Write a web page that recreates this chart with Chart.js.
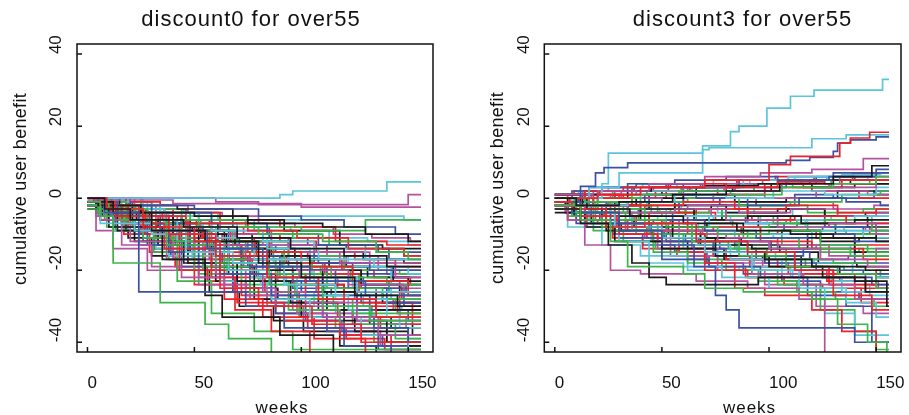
<!DOCTYPE html>
<html>
<head>
<meta charset="utf-8">
<script src="https://cdn.jsdelivr.net/npm/chart.js@4.4.0/dist/chart.umd.min.js"></script>
<style>
  body { margin: 0; background: #fff; }
  #wrap { position: relative; width: 909px; height: 415px; overflow: hidden; font-family: "Liberation Sans", Arial, sans-serif; color: #111; }
  canvas { position: absolute; top: 0; }
  .lbl { position: absolute; white-space: nowrap; line-height: 1; transform: translate(-50%, -50%); }
  .main { font-size: 22px; letter-spacing: 1px; }
  .xt { font-size: 17px; letter-spacing: 1px; }
  .yt { font-size: 18px; letter-spacing: 0.3px; transform: translate(-50%, -50%) rotate(-90deg); }
</style>
</head>
<body>
<div id="wrap">
  <canvas id="c0" width="455" height="415" style="left:0"></canvas>
  <canvas id="c1" width="454" height="415" style="left:455px"></canvas>
  <div class="lbl main" style="left:251px;top:18.5px">discount0 for over55</div>
  <div class="lbl main" style="left:742.5px;top:18.5px">discount3 for over55</div>
  <div class="lbl xt" style="left:282px;top:407px">weeks</div>
  <div class="lbl xt" style="left:749.5px;top:407px">weeks</div>
  <div class="lbl yt" style="left:19.8px;top:189px">cumulative user benefit</div>
  <div class="lbl yt" style="left:497px;top:188px">cumulative user benefit</div>
</div>
<script>
const weeksEnd = 156;
const xTicks = [0, 50, 100, 150];
const yTicks = [-40, -20, 0, 20, 40];
const black = '#1a1a1a', red = '#ec2229', green = '#3db449', blue = '#3b51a3', cyan = '#5cc5dc', magenta = '#b4529f';

// discount0: each row is week,value,week,value,... (value held until next week)
const d0Black = [
  [0,0, 8,-3, 20,-6, 45,-8, 70,-11, 95,-14, 120,-16, 140,-19],
  [0,-1, 12,-4, 30,-9, 55,-12, 80,-18, 100,-22, 125,-27, 145,-30],
  [0,0, 5,-2, 25,-4, 50,-5, 75,-7, 110,-8, 130,-10, 150,-12],
  [0,-2, 10,-8, 35,-17, 55,-27, 63,-33, 90,-38, 115,-44],
  [0,0, 15,-5, 40,-10, 65,-14, 85,-20, 110,-26, 135,-31],
  [0,-1, 6,-6, 22,-12, 45,-18, 70,-23, 95,-29, 120,-34, 140,-40],
  [0,0, 18,-2, 42,-3, 68,-6, 92,-9, 118,-13, 138,-14],
  [0,-3, 14,-9, 33,-13, 58,-19, 78,-28, 100,-33, 125,-37, 150,-41],
  [0,0, 10,-3, 28,-7, 52,-13, 72,-16, 104,-20, 128,-24, 146,-26],
  [0,-1, 20,-6, 48,-15, 66,-21, 88,-26, 112,-31, 132,-35, 152,-38],
  [0,-1, 4,-3, 9,-5, 16,-7, 27,-10, 38,-12, 52,-15, 66,-17, 84,-21, 102,-24, 120,-26, 138,-29],
  [0,0, 3,-1, 12,-2, 21,-6, 33,-8, 49,-9, 64,-12, 79,-14, 97,-17, 113,-19, 131,-22, 150,-24],
  [0,-2, 7,-5, 18,-9, 31,-14, 47,-18, 60,-23, 74,-25, 89,-28, 108,-31, 124,-33, 142,-36],
  [0,0, 10,-4, 23,-6, 37,-9, 53,-11, 69,-13, 86,-16, 104,-18, 121,-19, 143,-23],
  [0,-1, 5,-2, 15,-4, 29,-5, 44,-7, 61,-10, 77,-12, 94,-13, 112,-15, 129,-17, 148,-18],
  [0,-1, 9,-6, 19,-11, 30,-16, 42,-20, 57,-26, 71,-30, 87,-34, 101,-37, 118,-41, 135,-45]
];
const d0Red = [
  [0,0, 9,-3, 26,-8, 50,-12, 62,-25, 80,-30, 105,-35, 128,-40],
  [0,-1, 13,-5, 38,-10, 60,-16, 84,-22, 108,-28, 135,-33],
  [0,0, 7,-2, 24,-5, 46,-7, 75,-9, 98,-11, 122,-14, 148,-16],
  [0,-2, 16,-7, 36,-14, 58,-22, 69,-31, 86,-37, 104,-46],
  [0,0, 11,-4, 30,-9, 54,-11, 78,-15, 100,-19, 124,-23, 150,-27],
  [0,-1, 19,-8, 43,-20, 64,-28, 82,-33, 106,-39, 130,-44],
  [0,0, 8,-1, 34,-4, 62,-6, 90,-8, 116,-12, 140,-13],
  [0,-2, 22,-6, 47,-13, 72,-20, 96,-24, 120,-30, 145,-32],
  [0,0, 14,-6, 32,-11, 57,-17, 77,-21, 102,-26, 126,-29, 152,-35],
  [0,-1, 10,-4, 27,-10, 50,-24, 70,-29, 92,-34, 118,-38, 142,-43],
  [0,0, 5,-3, 14,-6, 25,-10, 39,-13, 55,-18, 68,-22, 83,-26, 99,-29, 117,-33, 137,-36],
  [0,-1, 8,-2, 19,-5, 33,-7, 48,-10, 63,-12, 79,-16, 93,-18, 111,-21, 128,-25, 147,-28],
  [0,0, 11,-2, 24,-3, 40,-6, 57,-8, 73,-10, 90,-12, 107,-15, 125,-17, 144,-19],
  [0,-2, 6,-6, 17,-10, 29,-15, 41,-19, 56,-23, 72,-27, 88,-32, 103,-36, 121,-39, 139,-42],
  [0,-1, 13,-3, 27,-7, 43,-12, 59,-15, 76,-18, 92,-21, 110,-23, 127,-26, 146,-30],
  [0,0, 4,-2, 16,-4, 35,-6, 51,-9, 67,-12, 85,-15, 103,-17, 119,-20, 134,-22, 151,-24]
];
const d0Green = [
  [0,-1, 6,-5, 12,-18, 34,-29, 55,-35, 66,-39, 86,-47],
  [0,0, 10,-3, 28,-6, 52,-8, 80,-10, 110,-12, 135,-15, 150,-17],
  [0,-2, 15,-6, 37,-13, 60,-18, 85,-24, 110,-30, 132,-34],
  [0,0, 8,-2, 22,-4, 48,-6, 74,-8, 100,-9, 130,-6],
  [0,-1, 18,-7, 40,-12, 64,-17, 88,-21, 112,-25, 138,-28],
  [0,0, 12,-4, 26,-11, 50,-20, 72,-23, 94,-31, 118,-35, 144,-39],
  [0,-3, 9,-8, 31,-15, 54,-19, 76,-26, 98,-28, 124,-32],
  [0,0, 20,-3, 44,-9, 68,-14, 92,-19, 114,-22, 140,-24],
  [0,-1, 5,-4, 17,-9, 42,-23, 58,-32, 78,-37, 96,-42],
  [0,0, 25,-5, 46,-10, 70,-12, 94,-16, 120,-20, 146,-21],
  [0,0, 7,-2, 17,-5, 28,-8, 42,-11, 58,-14, 73,-18, 90,-22, 108,-25, 126,-28, 144,-31],
  [0,-1, 10,-4, 21,-8, 35,-11, 50,-16, 64,-20, 80,-23, 97,-27, 115,-30, 133,-33, 149,-36],
  [0,0, 15,-1, 30,-3, 46,-5, 62,-7, 78,-9, 96,-11, 113,-13, 130,-14, 148,-16],
  [0,-2, 5,-5, 13,-9, 24,-13, 38,-17, 52,-21, 68,-24, 84,-29, 99,-33, 116,-36, 134,-40],
  [0,0, 9,-3, 22,-5, 36,-8, 53,-10, 70,-14, 87,-17, 105,-20, 123,-23, 141,-26],
  [0,-1, 12,-2, 26,-6, 41,-9, 57,-12, 74,-15, 91,-19, 109,-21, 127,-24, 147,-27]
];
const d0Blue = [
  [0,0, 8,-4, 24,-26, 74,-30, 92,-36, 120,-41, 142,-45],
  [0,-1, 14,-5, 34,-9, 56,-14, 82,-19, 104,-23, 130,-27],
  [0,0, 10,-2, 30,-4, 58,-7, 84,-10, 108,-13, 136,-15],
  [0,-2, 16,-8, 38,-15, 62,-21, 86,-27, 110,-33, 134,-36, 150,-40],
  [0,0, 20,-2, 50,-3, 80,-5, 100,-6, 120,-8, 144,-10],
  [0,-1, 12,-6, 28,-13, 52,-18, 76,-23, 100,-26, 126,-31],
  [0,0, 6,-3, 26,-7, 48,-14, 72,-19, 96,-22, 122,-25, 148,-30],
  [0,-1, 18,-4, 40,-8, 66,-16, 90,-20, 116,-25, 140,-29],
  [0,0, 11,-5, 36,-11, 60,-13, 84,-16, 108,-18, 132,-20],
  [0,-2, 22,-10, 44,-19, 68,-26, 88,-32, 112,-37, 136,-42],
  [0,0, 6,-2, 16,-5, 29,-9, 43,-12, 59,-16, 75,-19, 92,-23, 110,-26, 128,-29, 146,-33],
  [0,-1, 11,-3, 24,-6, 38,-8, 54,-11, 71,-13, 88,-15, 106,-18, 124,-21, 143,-22],
  [0,-2, 4,-4, 13,-8, 26,-12, 39,-16, 55,-20, 70,-25, 86,-29, 102,-34, 120,-38, 138,-41],
  [0,0, 9,-1, 21,-3, 36,-4, 52,-6, 68,-8, 85,-11, 103,-13, 121,-14, 141,-17],
  [0,-1, 7,-4, 18,-7, 32,-11, 47,-15, 63,-18, 79,-22, 96,-25, 114,-27, 132,-31, 150,-34],
  [0,0, 14,-3, 28,-5, 44,-10, 61,-12, 77,-15, 94,-19, 112,-22, 129,-24, 149,-26]
];
const d0Cyan = [
  [0,0, 90,1, 96,2, 140,4.5],
  [0,-1, 8,-4, 22,-9, 46,-15, 68,-18, 92,-24, 116,-28, 140,-33],
  [0,-2, 6,-7, 30,-10, 56,-14, 78,-17, 100,-22, 126,-26],
  [0,0, 14,-3, 36,-8, 60,-11, 84,-14, 108,-17, 134,-19, 150,-21],
  [0,-1, 20,-6, 42,-12, 66,-20, 86,-28, 104,-33, 128,-38, 150,-44],
  [0,0, 10,-2, 34,-5, 58,-9, 82,-12, 106,-14, 130,-17],
  [0,-1, 16,-7, 38,-16, 62,-23, 84,-26, 106,-30, 132,-34],
  [0,0, 26,-4, 52,-6, 100,-5, 148,-6],
  [0,-2, 12,-9, 32,-14, 54,-18, 76,-22, 98,-27, 122,-31, 146,-36],
  [0,0, 8,-3, 20,-5, 44,-7, 70,-13, 94,-17, 118,-19, 142,-24],
  [0,-1, 5,-3, 15,-6, 27,-9, 40,-12, 56,-14, 72,-17, 88,-20, 106,-23, 124,-25, 142,-28],
  [0,0, 10,-2, 23,-4, 38,-7, 54,-9, 70,-12, 86,-14, 104,-16, 122,-18, 140,-20],
  [0,-1, 8,-5, 19,-9, 33,-13, 49,-17, 65,-21, 81,-24, 98,-29, 116,-32, 134,-36, 150,-39],
  [0,0, 13,-1, 28,-3, 45,-4, 61,-6, 78,-8, 95,-9, 113,-11, 131,-12, 150,-13],
  [0,-2, 6,-4, 17,-8, 31,-12, 45,-14, 60,-17, 76,-21, 93,-24, 111,-27, 129,-30, 147,-31],
  [0,0, 11,-3, 25,-7, 39,-10, 55,-13, 71,-16, 87,-18, 105,-21, 123,-23, 141,-26]
];
const d0Magenta = [
  [0,0, 60,-1, 80,-1.8, 150,1],
  [0,-0.5, 40,-1.5, 100,-2.5],
  [0,-1, 6,-6, 16,-13, 30,-19, 44,-22, 64,-25, 88,-30, 110,-33, 136,-38],
  [0,0, 10,-4, 26,-9, 50,-13, 74,-17, 98,-20, 122,-24, 148,-27],
  [0,-2, 8,-6, 20,-12, 40,-17, 60,-21, 82,-26, 102,-29, 126,-34],
  [0,0, 14,-2, 32,-6, 58,-10, 82,-13, 106,-15, 132,-18],
  [0,-1, 18,-5, 38,-12, 54,-20, 74,-27, 96,-31, 118,-36, 140,-40],
  [0,0, 22,-3, 46,-8, 70,-11, 94,-15, 118,-18, 144,-22],
  [0,-3, 4,-9, 12,-14, 28,-20, 52,-24, 76,-28, 98,-32, 124,-35],
  [0,0, 12,-3, 36,-6, 62,-9, 86,-13, 112,-16, 136,-20],
  [0,-1, 6,-3, 16,-7, 28,-10, 41,-13, 57,-16, 73,-19, 89,-23, 107,-26, 125,-28, 143,-31],
  [0,0, 9,-2, 22,-4, 37,-6, 53,-9, 69,-11, 86,-14, 104,-16, 121,-18, 140,-21],
  [0,-2, 4,-5, 12,-9, 24,-13, 37,-17, 52,-22, 68,-26, 84,-30, 101,-34, 119,-37, 137,-41],
  [0,0, 14,-1, 30,-2, 47,-4, 63,-5, 80,-7, 97,-8, 115,-10, 133,-11, 151,-12],
  [0,-1, 8,-4, 19,-8, 34,-11, 50,-14, 66,-17, 82,-20, 99,-22, 117,-25, 135,-29],
  [0,0, 11,-2, 26,-5, 42,-8, 58,-12, 75,-15, 92,-18, 110,-20, 128,-23, 146,-25]
];

// discount3
const d3Black = [
  [0,0, 10,-2, 30,-1, 55,1, 80,2, 105,4, 130,6, 148,9],
  [0,-3, 12,-7, 25,-13, 36,-18, 44,-22, 52,-24, 80,-24, 95,-22, 140,-23, 155,-30],
  [0,0, 15,-3, 35,-5, 60,-7, 85,-9, 110,-10, 130,-11, 150,-12],
  [0,-1, 10,-4, 30,-8, 55,-11, 75,-15, 98,-17, 120,-19, 145,-20],
  [0,1, 20,2, 45,3, 70,3.5, 95,4, 120,3, 140,4],
  [0,-4, 14,-8, 28,-12, 50,-14, 75,-16, 100,-19, 125,-22, 145,-26],
  [0,0, 6,-3, 22,-5, 40,-3, 65,-6, 90,-5, 115,-7, 140,-6],
  [0,-1, 18,-2, 38,0, 60,1, 84,-1, 108,0, 132,2, 150,1],
  [0,-2, 9,-5, 24,-9, 46,-10, 68,-13, 92,-14, 118,-11, 140,-15],
  [0,0, 12,-1, 34,-3, 56,-2, 80,-4, 104,-3, 126,-5, 146,-8],
  [0,-1, 5,-2, 14,-4, 26,-3, 40,-6, 55,-8, 71,-7, 88,-10, 106,-9, 124,-12, 142,-11],
  [0,0, 8,1, 20,0, 34,2, 50,1, 66,3, 83,2, 101,4, 119,5, 138,4],
  [0,-2, 6,-4, 17,-7, 31,-9, 46,-12, 62,-14, 79,-17, 97,-16, 115,-19, 133,-21, 150,-22],
  [0,0, 11,-1, 25,-2, 40,-1, 56,-3, 73,-2, 90,-4, 108,-3, 126,-5, 145,-4],
  [0,-1, 9,-3, 22,-6, 37,-8, 53,-10, 70,-11, 87,-13, 105,-15, 123,-18, 141,-19],
  [0,0, 13,-2, 28,-1, 44,-3, 61,-5, 78,-6, 95,-8, 113,-7, 131,-10, 150,-11]
];
const d3Red = [
  [0,0, 20,1, 40,3, 70,5, 100,9.3, 110,11.6, 133,15.3, 138,16.7, 147,18.3],
  [0,-1, 8,-3, 24,-8, 42,-7, 66,-12, 90,-15, 112,-20, 130,-27, 148,-31],
  [0,0, 14,2, 32,3, 54,4, 80,3, 104,4.5, 126,4, 150,5],
  [0,-2, 12,-5, 30,-10, 48,-11, 70,-18, 84,-25, 98,-27, 120,-31, 134,-37, 150,-44],
  [0,1, 16,0, 36,-2, 60,-1, 84,-3, 108,-2, 132,-4, 150,-3],
  [0,-1, 10,-2, 28,-6, 50,-9, 74,-8, 96,-12, 120,-14, 144,-17],
  [0,0, 18,-2, 40,-5, 62,-10, 70,-20, 90,-22, 116,-21, 140,-25],
  [0,-3, 6,-6, 20,-7, 44,-4, 66,-3, 90,-6, 112,-5, 136,-7],
  [0,0, 12,1, 30,0, 52,2, 76,1, 98,3, 120,2, 142,0],
  [0,-2, 14,-6, 34,-9, 58,-15, 80,-17, 104,-19, 128,-24, 150,-20],
  [0,0, 7,-1, 18,1, 32,0, 47,2, 63,3, 80,2, 98,4, 116,3, 134,5],
  [0,-1, 6,-3, 16,-5, 29,-8, 43,-11, 58,-13, 74,-16, 91,-19, 109,-21, 127,-23, 145,-26],
  [0,-2, 10,-4, 23,-5, 38,-7, 54,-6, 70,-8, 87,-10, 104,-9, 122,-11, 140,-13],
  [0,0, 12,-1, 26,-3, 42,-2, 58,-4, 75,-6, 92,-5, 110,-7, 128,-8, 147,-10],
  [0,1, 9,2, 21,1, 36,3, 52,4, 68,3, 85,5, 103,6, 121,5, 139,7],
  [0,-1, 5,-4, 15,-8, 27,-11, 41,-14, 57,-16, 72,-19, 89,-22, 107,-24, 125,-25, 143,-29]
];
const d3Green = [
  [0,-2, 12,-6, 26,-12, 34,-19, 60,-21, 70,-25, 88,-26, 120,-28, 132,-35, 146,-40, 155,-43],
  [0,0, 14,-1, 36,1, 58,2, 82,1, 106,3, 130,4, 150,6],
  [0,-1, 10,-4, 30,-6, 52,-8, 76,-10, 100,-9, 124,-13, 146,-15],
  [0,0, 20,-3, 42,-7, 64,-12, 86,-16, 108,-19, 132,-21, 150,-25],
  [0,-3, 8,-5, 22,-8, 44,-10, 66,-9, 90,-11, 114,-14, 138,-16],
  [0,1, 16,0, 40,-1, 62,0, 86,-2, 110,-1, 134,1, 152,2],
  [0,-1, 12,-3, 28,-9, 46,-15, 62,-18, 80,-20, 104,-24, 124,-31, 140,-37, 150,-42],
  [0,0, 10,-2, 32,-4, 54,-3, 78,-5, 102,-7, 126,-6, 148,-9],
  [0,-2, 18,-7, 38,-10, 60,-13, 84,-14, 108,-17, 130,-18, 150,-16],
  [0,0, 6,-1, 26,-2, 48,-4, 72,-3, 96,-2, 118,-4, 144,-3],
  [0,0, 9,-2, 20,-3, 35,-5, 50,-4, 66,-6, 83,-8, 100,-7, 118,-9, 136,-10],
  [0,-1, 7,-2, 19,-4, 33,-7, 48,-9, 64,-12, 81,-14, 99,-17, 117,-19, 135,-20, 152,-22],
  [0,1, 12,0, 27,2, 43,1, 59,3, 76,2, 93,4, 111,3, 129,5, 147,4],
  [0,-2, 6,-5, 18,-9, 32,-12, 47,-14, 62,-17, 78,-20, 95,-23, 113,-26, 131,-28, 149,-30],
  [0,0, 14,-1, 29,-2, 45,-4, 61,-3, 78,-5, 95,-6, 113,-8, 131,-7, 150,-9],
  [0,-1, 10,-3, 24,-4, 39,-6, 55,-9, 71,-11, 88,-10, 106,-13, 124,-15, 142,-14]
];
const d3Blue = [
  [0,0, 12,3.3, 19,7, 23,8.5, 34,9.8, 108,10.5, 119,11.3, 130,13, 132,15.3, 138,16.2, 150,17],
  [0,-1, 12,-4, 30,-9, 50,-13, 65,-19, 75,-27, 80,-31, 86,-36, 140,-40],
  [0,0, 14,2, 34,4, 56,5, 80,6, 104,5, 128,6, 150,7],
  [0,-2, 8,-4, 26,-7, 46,-6, 70,-9, 94,-11, 118,-10, 140,-12],
  [0,0, 20,-1, 42,1, 66,0, 90,-2, 114,0, 136,-1, 152,-2],
  [0,-1, 12,-6, 30,-11, 50,-17, 72,-19, 96,-22, 118,-27, 136,-30, 148,-40],
  [0,1, 16,3, 38,4, 60,2, 84,3, 108,5, 130,7, 150,8],
  [0,-3, 10,-7, 28,-10, 52,-12, 74,-15, 98,-18, 122,-20, 144,-21],
  [0,0, 18,-2, 36,-1, 58,-3, 80,-6, 104,-5, 126,-8, 148,-7],
  [0,-1, 6,-3, 24,-5, 44,-9, 68,-12, 90,-16, 116,-14, 140,-18],
  [0,0, 8,2, 22,3, 37,2, 53,4, 69,3, 86,5, 104,4, 122,6, 140,5],
  [0,-1, 6,-2, 17,-5, 30,-7, 45,-10, 61,-12, 77,-14, 94,-17, 112,-20, 130,-22, 148,-24],
  [0,0, 11,-1, 24,-3, 39,-4, 55,-6, 72,-5, 89,-7, 107,-9, 125,-8, 144,-10],
  [0,-2, 9,-4, 21,-6, 36,-9, 51,-11, 67,-13, 84,-12, 101,-15, 119,-17, 137,-16],
  [0,1, 13,0, 28,1, 44,-1, 60,0, 77,-2, 94,-1, 112,1, 130,0, 149,2],
  [0,-1, 5,-3, 14,-7, 27,-10, 41,-13, 56,-15, 71,-18, 88,-21, 106,-23, 124,-26, 142,-28]
];
const d3Cyan = [
  [0,0, 22,4, 25,12.5, 69,14.5, 82,18.5, 86,20, 99,25, 110,28.3, 121,30, 153,33],
  [0,0, 16,3, 30,7, 69,13.5, 72,14, 120,16.5, 136,17.6],
  [0,-1, 10,-4, 28,-8, 50,-11, 70,-15, 92,-20, 114,-25, 136,-29, 150,-33],
  [0,0, 14,-2, 34,-1, 56,1, 80,0, 102,2, 126,1, 150,3],
  [0,-2, 12,-7, 30,-12, 44,-18, 60,-19, 78,-22, 100,-25, 126,-32, 140,-38],
  [0,0, 8,-3, 26,-6, 48,-5, 72,-8, 96,-10, 120,-9, 144,-11],
  [0,1, 20,0, 40,2, 64,3, 88,5, 112,6, 134,6.5, 152,7],
  [0,-1, 16,-5, 36,-9, 58,-13, 82,-17, 106,-21, 130,-23, 150,-22],
  [0,0, 10,-2, 30,-3, 52,-6, 74,-5, 96,-7, 118,-6, 140,-5],
  [0,-3, 6,-8, 22,-13, 40,-16, 62,-20, 86,-19, 110,-22, 134,-26],
  [0,0, 7,-1, 19,-2, 34,-4, 49,-3, 65,-5, 82,-7, 99,-6, 117,-8, 135,-9],
  [0,-1, 9,-3, 22,-5, 36,-8, 52,-10, 68,-12, 85,-15, 103,-17, 121,-18, 139,-21],
  [0,1, 11,2, 25,3, 41,4, 57,3, 74,5, 91,4, 109,6, 127,5, 146,6],
  [0,-2, 6,-4, 16,-6, 30,-9, 45,-12, 60,-14, 76,-17, 93,-20, 111,-22, 129,-24, 147,-27],
  [0,0, 12,-2, 27,-1, 43,-3, 59,-2, 76,-4, 93,-3, 111,-5, 129,-6, 148,-5],
  [0,-1, 8,-2, 20,-4, 35,-6, 51,-7, 67,-9, 84,-11, 102,-10, 120,-13, 138,-15]
];
const d3Magenta = [
  [0,0, 20,2, 44,4, 70,6, 96,7, 120,8, 144,11],
  [0,-2, 6,-6, 14,-13, 26,-20, 40,-21, 66,-23, 90,-25, 114,-28, 126,-44],
  [0,1, 18,2, 38,1, 60,3, 84,2, 106,4, 128,3, 150,5],
  [0,-1, 10,-3, 30,-7, 52,-9, 76,-12, 100,-14, 124,-17, 146,-19],
  [0,0, 16,-2, 34,-4, 56,-3, 80,-6, 104,-8, 128,-7, 150,-10],
  [0,-2, 12,-5, 28,-10, 48,-14, 70,-18, 92,-21, 116,-24, 140,-28],
  [0,0, 8,1, 26,0, 50,-1, 74,1, 98,0, 122,2, 146,1],
  [0,-1, 14,-4, 36,-6, 58,-10, 80,-11, 104,-13, 128,-16, 150,-14],
  [0,0, 20,-1, 40,-3, 62,-2, 86,-4, 110,-3, 132,-5, 150,-4],
  [0,-3, 10,-6, 30,-9, 54,-16, 76,-20, 98,-24, 122,-30, 144,-32],
  [0,0, 6,1, 17,0, 31,2, 46,3, 62,2, 79,4, 97,5, 115,4, 133,6],
  [0,-1, 8,-3, 19,-6, 33,-9, 48,-12, 64,-14, 80,-17, 97,-19, 115,-22, 133,-23, 151,-25],
  [0,0, 11,-1, 25,-2, 40,-4, 56,-3, 73,-5, 90,-7, 108,-6, 126,-8, 145,-9],
  [0,-2, 5,-4, 15,-6, 28,-9, 42,-11, 58,-13, 74,-16, 91,-18, 109,-20, 127,-21, 145,-24],
  [0,1, 13,2, 28,0, 44,1, 60,-1, 77,0, 94,-2, 112,-1, 130,-3, 149,-2],
  [0,-1, 9,-2, 22,-5, 37,-7, 53,-8, 69,-10, 86,-12, 104,-14, 122,-13, 140,-16]
];

function makeSets(groups) {
    const sets = [];
    const n = Math.max(...groups.map(g => g[1].length));
    for (let i = 0; i < n; i++) {
        groups.forEach(function(g) {
            const s = g[1][i];
            if (!s) return;
            const pts = [];
            for (let k = 0; k < s.length; k += 2) pts.push({x: s[k], y: s[k + 1]});
            pts.push({x: weeksEnd, y: s[s.length - 1]});
            sets.push({data: pts, borderColor: g[0], borderWidth: 1.7, stepped: true, pointRadius: 0, fill: false});
        });
    }
    return sets;
}

// box and inward tick marks, like the R frame
const framePlugin = {
    id: 'frame',
    afterDatasetsDraw(chart) {
        const ctx = chart.ctx, a = chart.chartArea, x = chart.scales.x, y = chart.scales.y;
        ctx.save();
        ctx.strokeStyle = '#111';
        ctx.lineWidth = 1.5;
        ctx.strokeRect(a.left, a.top, a.right - a.left, a.bottom - a.top);
        ctx.beginPath();
        xTicks.forEach(v => { const p = x.getPixelForValue(v); ctx.moveTo(p, a.bottom); ctx.lineTo(p, a.bottom - 5); });
        yTicks.forEach(v => { const p = y.getPixelForValue(v); ctx.moveTo(a.left, p); ctx.lineTo(a.left + 5, p); });
        ctx.stroke();
        ctx.restore();
    }
};

const tickFont = {family: '"Liberation Sans", Arial, sans-serif', size: 17};

function makeChart(id, sets, padLeft, yWidth, padRight) {
    return new Chart(document.getElementById(id), {
        type: 'line',
        data: {datasets: sets},
        options: {
            responsive: false,
            animation: false,
            devicePixelRatio: 1,
            layout: {padding: {top: 44, left: padLeft, right: padRight, bottom: 0}},
            plugins: {legend: {display: false}, tooltip: {enabled: false}},
            scales: {
                x: {
                    type: 'linear', min: -4.9, max: 161.6,
                    grid: {display: false, drawTicks: false}, border: {display: false},
                    afterBuildTicks: s => { s.ticks = xTicks.map(v => ({value: v})); },
                    afterFit: s => { s.height = 63; s.paddingLeft = 0; s.paddingRight = 0; },
                    ticks: {align: 'start', padding: 21, autoSkip: false, maxRotation: 0, color: '#111', font: tickFont}
                },
                y: {
                    type: 'linear', min: -42.7, max: 42.8,
                    grid: {display: false, drawTicks: false}, border: {display: false},
                    afterBuildTicks: s => { s.ticks = yTicks.map(v => ({value: v})); },
                    afterFit: s => { s.width = yWidth; s.paddingTop = 0; s.paddingBottom = 0; },
                    // mirrored so the rotated labels are not clipped; negative padding puts them back left of the axis
                    ticks: {minRotation: 90, maxRotation: 90, mirror: true, padding: -yWidth, autoSkip: false, color: '#111', font: tickFont}
                }
            }
        },
        plugins: [framePlugin]
    });
}

makeChart('c0', makeSets([[black, d0Black], [red, d0Red], [green, d0Green], [blue, d0Blue], [cyan, d0Cyan], [magenta, d0Magenta]]), 56, 21, 22);
makeChart('c1', makeSets([[black, d3Black], [red, d3Red], [green, d3Green], [blue, d3Blue], [cyan, d3Cyan], [magenta, d3Magenta]]), 69, 20.3, 8);
</script>
</body>
</html>
